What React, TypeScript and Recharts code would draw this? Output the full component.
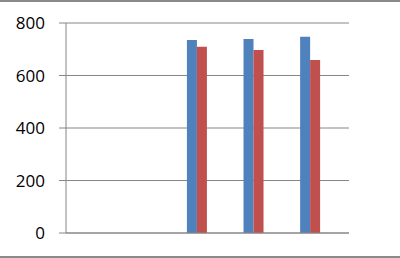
import { Bar, BarChart, CartesianGrid, XAxis, YAxis } from 'recharts'

// Five categories, no visible labels. Four series in the source chart:
// only the first two carry values, the last two are empty but still
// reserve their slots in each group (which is why the pair sits left).
const categories = ['', '', '', '', '']
const seriesA = [null, null, 735, 739, 748]
const seriesB = [null, null, 710, 697, 659]
const seriesC = [null, null, null, null, null]
const seriesD = [null, null, null, null, null]
const yTicks = [0, 200, 400, 600, 800]

const data = categories.map((name, i) => ({
  name,
  a: seriesA[i],
  b: seriesB[i],
  c: seriesC[i],
  d: seriesD[i],
}))

const GRID = '#868686'

export default function App() {
  return (
    <div
      style={{
        position: 'fixed',
        left: 0,
        top: 0,
        width: 400,
        height: 258,
        background: '#fff',
      }}
    >
      <BarChart
        width={400}
        height={258}
        data={data}
        margin={{ top: 23, right: 51, bottom: 0, left: 0 }}
        barCategoryGap="13.64%"
        barGap={0}
      >
        <CartesianGrid stroke={GRID} vertical={false} />
        <XAxis
          dataKey="name"
          height={25}
          tick={false}
          tickLine={false}
          axisLine={{ stroke: GRID }}
        />
        <YAxis
          width={66}
          domain={[0, 800]}
          ticks={yTicks}
          tickSize={7}
          tickMargin={14}
          tickLine={{ stroke: GRID }}
          axisLine={{ stroke: GRID }}
          tick={{ fill: '#000', fontSize: 17, fontFamily: 'Open Sans' }}
        />
        <Bar dataKey="a" fill="#4F81BD" isAnimationActive={false} />
        <Bar dataKey="b" fill="#C0504D" isAnimationActive={false} />
        <Bar dataKey="c" fill="#9BBB59" isAnimationActive={false} />
        <Bar dataKey="d" fill="#8064A2" isAnimationActive={false} />
      </BarChart>
      <div style={{ position: 'absolute', left: 0, top: 0, width: 400, height: 2, background: '#8a8a8a' }} />
      <div style={{ position: 'absolute', left: 0, top: 256, width: 400, height: 2, background: '#8a8a8a' }} />
    </div>
  )
}
